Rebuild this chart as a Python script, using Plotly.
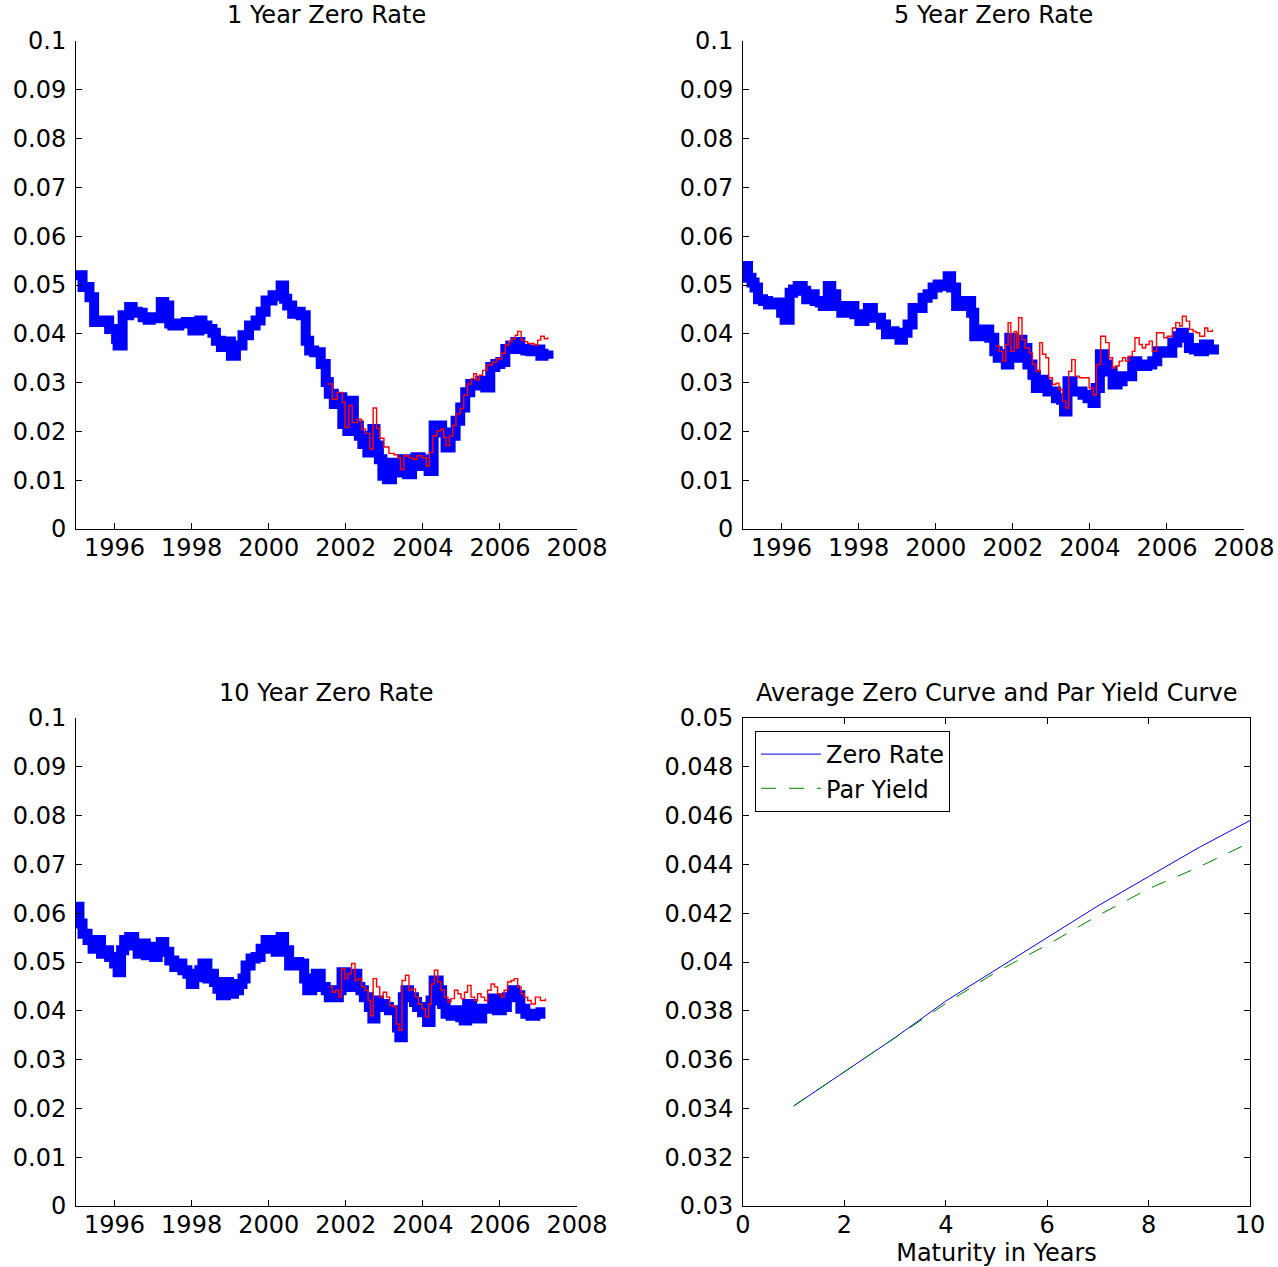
import plotly.graph_objects as go

W, H = 1278, 1267

# ---------------- data (decimal years, rates) ----------------
y1_dates = [1995.00, 1995.17, 1995.35, 1995.47, 1995.60, 1995.78, 1995.86, 1996.04, 1996.08, 1996.21,
            1996.38, 1996.47, 1996.60, 1996.73, 1996.86, 1996.94, 1997.07, 1997.20, 1997.29, 1997.42,
            1997.50, 1997.68, 1997.85, 1998.02, 1998.20, 1998.28, 1998.41, 1998.54, 1998.63, 1998.76,
            1998.89, 1999.02, 1999.15, 1999.32, 1999.49, 1999.66, 1999.79, 1999.92, 2000.10, 2000.18,
            2000.31, 2000.40, 2000.48, 2000.61, 2000.74, 2000.83, 2000.96, 2001.05, 2001.18, 2001.35,
            2001.48, 2001.56, 2001.69, 2001.82, 2001.91, 2002.04, 2002.12, 2002.21, 2002.34, 2002.43,
            2002.56, 2002.69, 2002.77, 2002.86, 2002.95, 2003.07, 2003.20, 2003.33, 2003.46, 2003.59,
            2003.72, 2003.81, 2003.94, 2004.07, 2004.15, 2004.28, 2004.41, 2004.50, 2004.59, 2004.72,
            2004.85, 2004.97, 2005.10, 2005.23, 2005.36, 2005.49, 2005.62, 2005.75, 2005.88, 2006.01,
            2006.14, 2006.27, 2006.40, 2006.53, 2006.66, 2006.79, 2006.92, 2007.05, 2007.13, 2007.26]
y1_zero = [0.0520, 0.0496, 0.0475, 0.0424, 0.0427, 0.0427, 0.0410, 0.0390, 0.0376, 0.0438,
           0.0455, 0.0445, 0.0443, 0.0434, 0.0429, 0.0434, 0.0432, 0.0465, 0.0458, 0.0421,
           0.0417, 0.0421, 0.0424, 0.0407, 0.0427, 0.0417, 0.0410, 0.0402, 0.0386, 0.0373,
           0.0384, 0.0355, 0.0376, 0.0397, 0.0417, 0.0427, 0.0445, 0.0468, 0.0479, 0.0477,
           0.0499, 0.0472, 0.0458, 0.0441, 0.0445, 0.0438, 0.0386, 0.0366, 0.0362, 0.0338,
           0.0301, 0.0277, 0.0256, 0.0270, 0.0215, 0.0201, 0.0263, 0.0212, 0.0191, 0.0174,
           0.0157, 0.0205, 0.0171, 0.0143, 0.0109, 0.0102, 0.0136, 0.0116, 0.0143, 0.0112,
           0.0129, 0.0147, 0.0143, 0.0129, 0.0119, 0.0212, 0.0212, 0.0198, 0.0167, 0.0191,
           0.0222, 0.0249, 0.0280, 0.0297, 0.0294, 0.0304, 0.0290, 0.0332, 0.0338, 0.0342,
           0.0369, 0.0376, 0.0383, 0.0369, 0.0366, 0.0364, 0.0368, 0.0355, 0.0359, 0.0366]
y1_red_dates = [2001.52, 2001.65, 2001.78, 2001.91, 2001.98, 2002.08, 2002.17, 2002.30, 2002.41, 2002.51,
                2002.62, 2002.71, 2002.80, 2002.88, 2002.99, 2003.12, 2003.25, 2003.35, 2003.42, 2003.51,
                2003.64, 2003.74, 2003.85, 2003.98, 2004.09, 2004.17, 2004.26, 2004.37, 2004.47, 2004.54,
                2004.60, 2004.69, 2004.78, 2004.86, 2004.97, 2005.06, 2005.16, 2005.26, 2005.32, 2005.39,
                2005.47, 2005.55, 2005.67, 2005.80, 2005.92, 2006.05, 2006.14, 2006.23, 2006.31, 2006.40,
                2006.46, 2006.55, 2006.63, 2006.72, 2006.81, 2006.89, 2006.98, 2007.06, 2007.15, 2007.24]
y1_red = [0.0297, 0.0266, 0.0280, 0.0260, 0.0208, 0.0253, 0.0218, 0.0225, 0.0205, 0.0196,
          0.0164, 0.0248, 0.0206, 0.0186, 0.0168, 0.0155, 0.0152, 0.0146, 0.0122, 0.0150,
          0.0146, 0.0143, 0.0150, 0.0146, 0.0129, 0.0157, 0.0191, 0.0201, 0.0205, 0.0188,
          0.0171, 0.0191, 0.0212, 0.0236, 0.0247, 0.0274, 0.0297, 0.0308, 0.0318, 0.0305,
          0.0315, 0.0325, 0.0336, 0.0342, 0.0349, 0.0360, 0.0377, 0.0384, 0.0390, 0.0397,
          0.0405, 0.0387, 0.0384, 0.0380, 0.0380, 0.0377, 0.0387, 0.0395, 0.0390, 0.0393]

y5_dates = [1995.00, 1995.13, 1995.22, 1995.30, 1995.39, 1995.52, 1995.65, 1995.78, 1995.91, 1995.99,
            1996.08, 1996.21, 1996.30, 1996.42, 1996.55, 1996.64, 1996.73, 1996.86, 1996.99, 1997.07,
            1997.20, 1997.29, 1997.42, 1997.55, 1997.68, 1997.76, 1997.89, 1998.02, 1998.15, 1998.24,
            1998.37, 1998.50, 1998.58, 1998.71, 1998.80, 1998.93, 1999.06, 1999.15, 1999.27, 1999.40,
            1999.53, 1999.66, 1999.79, 1999.92, 2000.05, 2000.18, 2000.31, 2000.40, 2000.53, 2000.66,
            2000.79, 2000.92, 2001.00, 2001.13, 2001.26, 2001.39, 2001.52, 2001.61, 2001.74, 2001.82,
            2001.91, 2002.00, 2002.08, 2002.17, 2002.25, 2002.38, 2002.51, 2002.60, 2002.73, 2002.82,
            2002.90, 2003.03, 2003.12, 2003.25, 2003.33, 2003.42, 2003.55, 2003.68, 2003.81, 2003.94,
            2004.07, 2004.15, 2004.26, 2004.37, 2004.46, 2004.59, 2004.72, 2004.85, 2004.97, 2005.10,
            2005.23, 2005.36, 2005.49, 2005.62, 2005.75, 2005.88, 2006.01, 2006.14, 2006.27, 2006.36,
            2006.44, 2006.57, 2006.70, 2006.83, 2006.96, 2007.09, 2007.22]
y5_zero = [0.0539, 0.0515, 0.0505, 0.0495, 0.0471, 0.0467, 0.0460, 0.0460, 0.0464, 0.0443,
           0.0429, 0.0484, 0.0491, 0.0498, 0.0488, 0.0471, 0.0481, 0.0467, 0.0464, 0.0457,
           0.0498, 0.0481, 0.0457, 0.0443, 0.0453, 0.0457, 0.0440, 0.0426, 0.0436, 0.0453,
           0.0433, 0.0433, 0.0419, 0.0399, 0.0405, 0.0402, 0.0388, 0.0402, 0.0419, 0.0453,
           0.0453, 0.0474, 0.0481, 0.0495, 0.0501, 0.0498, 0.0518, 0.0495, 0.0457, 0.0464,
           0.0467, 0.0443, 0.0395, 0.0395, 0.0409, 0.0392, 0.0364, 0.0351, 0.0358, 0.0337,
           0.0392, 0.0371, 0.0351, 0.0388, 0.0371, 0.0337, 0.0316, 0.0289, 0.0306, 0.0296,
           0.0282, 0.0282, 0.0268, 0.0265, 0.0241, 0.0303, 0.0282, 0.0282, 0.0275, 0.0268,
           0.0258, 0.0289, 0.0358, 0.0337, 0.0323, 0.0296, 0.0303, 0.0313, 0.0313, 0.0344,
           0.0334, 0.0334, 0.0337, 0.0344, 0.0364, 0.0364, 0.0361, 0.0382, 0.0395, 0.0402,
           0.0392, 0.0371, 0.0368, 0.0364, 0.0378, 0.0368, 0.0378]
y5_red_dates = [2001.56, 2001.65, 2001.74, 2001.82, 2001.88, 2001.95, 2002.04, 2002.10, 2002.15, 2002.24,
                2002.32, 2002.43, 2002.51, 2002.60, 2002.70, 2002.77, 2002.86, 2002.93, 2003.03, 2003.12,
                2003.20, 2003.29, 2003.38, 2003.45, 2003.53, 2003.62, 2003.72, 2003.85, 2003.98, 2004.09,
                2004.17, 2004.28, 2004.41, 2004.50, 2004.59, 2004.67, 2004.76, 2004.85, 2004.93, 2005.02,
                2005.10, 2005.17, 2005.28, 2005.36, 2005.45, 2005.54, 2005.62, 2005.73, 2005.84, 2005.92,
                2006.01, 2006.14, 2006.23, 2006.33, 2006.40, 2006.50, 2006.59, 2006.68, 2006.76, 2006.85,
                2006.98, 2007.06, 2007.18]
y5_red = [0.0375, 0.0364, 0.0344, 0.0378, 0.0423, 0.0364, 0.0405, 0.0371, 0.0433, 0.0388,
          0.0371, 0.0361, 0.0337, 0.0323, 0.0382, 0.0358, 0.0351, 0.0310, 0.0296, 0.0299,
          0.0286, 0.0262, 0.0248, 0.0323, 0.0347, 0.0313, 0.0310, 0.0310, 0.0289, 0.0275,
          0.0337, 0.0395, 0.0382, 0.0351, 0.0330, 0.0334, 0.0344, 0.0351, 0.0344, 0.0354,
          0.0364, 0.0392, 0.0378, 0.0371, 0.0378, 0.0385, 0.0364, 0.0402, 0.0402, 0.0392,
          0.0395, 0.0412, 0.0423, 0.0416, 0.0436, 0.0426, 0.0409, 0.0405, 0.0402, 0.0395,
          0.0412, 0.0405, 0.0409]

y10_dates = [1995.00, 1995.09, 1995.17, 1995.30, 1995.43, 1995.56, 1995.65, 1995.78, 1995.86, 1995.99,
             1996.08, 1996.17, 1996.25, 1996.38, 1996.51, 1996.60, 1996.68, 1996.81, 1996.90, 1997.03,
             1997.12, 1997.20, 1997.29, 1997.42, 1997.55, 1997.68, 1997.76, 1997.89, 1997.98, 1998.07,
             1998.20, 1998.28, 1998.41, 1998.50, 1998.58, 1998.67, 1998.76, 1998.89, 1998.97, 1999.10,
             1999.23, 1999.32, 1999.40, 1999.53, 1999.66, 1999.79, 1999.92, 2000.05, 2000.18, 2000.31,
             2000.40, 2000.53, 2000.66, 2000.79, 2000.92, 2001.00, 2001.13, 2001.22, 2001.35, 2001.48,
             2001.56, 2001.69, 2001.82, 2001.89, 2002.00, 2002.08, 2002.17, 2002.30, 2002.38, 2002.47,
             2002.60, 2002.69, 2002.77, 2002.86, 2002.99, 2003.12, 2003.25, 2003.33, 2003.39, 2003.48,
             2003.55, 2003.64, 2003.77, 2003.85, 2003.98, 2004.11, 2004.20, 2004.28, 2004.41, 2004.50,
             2004.59, 2004.72, 2004.85, 2004.97, 2005.06, 2005.15, 2005.28, 2005.41, 2005.54, 2005.67,
             2005.80, 2005.92, 2006.05, 2006.18, 2006.31, 2006.40, 2006.53, 2006.66, 2006.79, 2006.92,
             2007.05, 2007.18]
y10_zero = [0.0613, 0.0579, 0.0558, 0.0545, 0.0527, 0.0545, 0.0517, 0.0524, 0.0510, 0.0497,
            0.0479, 0.0524, 0.0545, 0.0551, 0.0534, 0.0517, 0.0538, 0.0514, 0.0531, 0.0510,
            0.0524, 0.0541, 0.0521, 0.0503, 0.0490, 0.0497, 0.0483, 0.0476, 0.0455, 0.0469,
            0.0483, 0.0497, 0.0466, 0.0476, 0.0459, 0.0445, 0.0432, 0.0459, 0.0435, 0.0442,
            0.0455, 0.0466, 0.0493, 0.0507, 0.0510, 0.0527, 0.0545, 0.0534, 0.0521, 0.0551,
            0.0524, 0.0493, 0.0500, 0.0497, 0.0466, 0.0442, 0.0459, 0.0476, 0.0449, 0.0442,
            0.0428, 0.0428, 0.0442, 0.0479, 0.0452, 0.0449, 0.0476, 0.0449, 0.0442, 0.0428,
            0.0408, 0.0384, 0.0421, 0.0414, 0.0408, 0.0401, 0.0401, 0.0366, 0.0346, 0.0428,
            0.0442, 0.0428, 0.0418, 0.0408, 0.0397, 0.0377, 0.0421, 0.0462, 0.0442, 0.0414,
            0.0394, 0.0390, 0.0401, 0.0387, 0.0380, 0.0414, 0.0401, 0.0384, 0.0404, 0.0404,
            0.0425, 0.0401, 0.0408, 0.0428, 0.0442, 0.0432, 0.0404, 0.0394, 0.0390, 0.0394,
            0.0397, 0.0397]
y10_red_dates = [2001.56, 2001.65, 2001.74, 2001.82, 2001.89, 2001.98, 2002.06, 2002.15, 2002.24, 2002.32,
                 2002.41, 2002.50, 2002.58, 2002.64, 2002.71, 2002.80, 2002.88, 2002.97, 2003.06, 2003.14,
                 2003.23, 2003.31, 2003.38, 2003.46, 2003.55, 2003.64, 2003.72, 2003.81, 2003.89, 2003.98,
                 2004.07, 2004.15, 2004.22, 2004.30, 2004.39, 2004.47, 2004.56, 2004.65, 2004.73, 2004.82,
                 2004.91, 2004.99, 2005.08, 2005.16, 2005.25, 2005.34, 2005.42, 2005.51, 2005.60, 2005.68,
                 2005.77, 2005.86, 2005.94, 2006.03, 2006.11, 2006.20, 2006.29, 2006.37, 2006.46, 2006.55,
                 2006.63, 2006.72, 2006.81, 2006.92, 2007.05, 2007.18]
y10_red = [0.0449, 0.0438, 0.0442, 0.0428, 0.0486, 0.0466, 0.0476, 0.0497, 0.0462, 0.0466,
           0.0449, 0.0442, 0.0421, 0.0390, 0.0466, 0.0449, 0.0428, 0.0438, 0.0428, 0.0411,
           0.0408, 0.0373, 0.0360, 0.0462, 0.0473, 0.0442, 0.0445, 0.0428, 0.0414, 0.0404,
           0.0387, 0.0414, 0.0455, 0.0483, 0.0459, 0.0442, 0.0428, 0.0418, 0.0425, 0.0442,
           0.0435, 0.0425, 0.0438, 0.0452, 0.0428, 0.0421, 0.0435, 0.0428, 0.0421, 0.0442,
           0.0455, 0.0449, 0.0435, 0.0428, 0.0442, 0.0459, 0.0462, 0.0466, 0.0449, 0.0435,
           0.0428, 0.0421, 0.0414, 0.0428, 0.0421, 0.0425]

maturities = [1, 2, 3, 4, 5, 6, 7, 8, 9, 10]
avg_zero = [0.0341, 0.0355, 0.0369, 0.0384, 0.0397, 0.0410, 0.0423, 0.0435, 0.0447, 0.0458]
avg_par = [0.0341, 0.0355, 0.0369, 0.0383, 0.0396, 0.0407, 0.0419, 0.0430, 0.0439, 0.0449]

year_ticks = [1996, 1998, 2000, 2002, 2004, 2006, 2008]
year_labels = ["1996", "1998", "2000", "2002", "2004", "2006", "2008"]
rate_ticks = [0, 0.01, 0.02, 0.03, 0.04, 0.05, 0.06, 0.07, 0.08, 0.09, 0.1]
rate_labels = ["0", "0.01", "0.02", "0.03", "0.04", "0.05", "0.06", "0.07", "0.08", "0.09", "0.1"]
curve_ticks = [0.03, 0.032, 0.034, 0.036, 0.038, 0.04, 0.042, 0.044, 0.046, 0.048, 0.05]
curve_labels = ["0.03", "0.032", "0.034", "0.036", "0.038", "0.04", "0.042", "0.044", "0.046", "0.048", "0.05"]
mat_ticks = [0, 2, 4, 6, 8, 10]

titles = ["1 Year Zero Rate", "5 Year Zero Rate", "10 Year Zero Rate",
          "Average Zero Curve and Par Yield Curve"]

FONT = "DejaVu Sans"
FS = 24
BLUE = "#0000ff"
RED = "#ff0000"
GREEN = "#008000"

# ---------------- figure ----------------
fig = go.Figure()

panels = [
    (y1_dates, y1_zero, y1_red_dates, y1_red, "x", "y"),
    (y5_dates, y5_zero, y5_red_dates, y5_red, "x2", "y2"),
    (y10_dates, y10_zero, y10_red_dates, y10_red, "x3", "y3"),
]
for d, z, rd, r, xa, ya in panels:
    fig.add_trace(go.Scatter(x=d, y=z, mode="lines", line=dict(color=BLUE, width=10, shape="hv"),
                             xaxis=xa, yaxis=ya, showlegend=False, hoverinfo="skip"))
    fig.add_trace(go.Scatter(x=rd, y=r, mode="lines", line=dict(color=RED, width=1.4, shape="hv"),
                             xaxis=xa, yaxis=ya, showlegend=False, hoverinfo="skip"))

fig.add_trace(go.Scatter(x=maturities, y=avg_zero, mode="lines", name="Zero Rate",
                         line=dict(color=BLUE, width=1), xaxis="x4", yaxis="y4"))
fig.add_trace(go.Scatter(x=maturities, y=avg_par, mode="lines", name="Par Yield",
                         line=dict(color=GREEN, width=1, dash="15px,13px"), xaxis="x4", yaxis="y4"))


def px_x(p):
    return p / W


def px_y(p):
    return 1 - p / H


col1 = [px_x(76), px_x(577)]
col2 = [px_x(743), px_x(1244)]
col2b = [px_x(743), px_x(1250)]
row1 = [px_y(529), px_y(41)]
row2 = [px_y(1206), px_y(718)]

tickfont = dict(family=FONT, size=FS, color="black")
common = dict(showgrid=False, zeroline=False, showline=True, linecolor="black", linewidth=1,
              ticks="inside", ticklen=6, tickcolor="black", tickfont=tickfont, automargin=False)


def time_x(domain, anchor):
    return dict(common, domain=domain, anchor=anchor, range=[1995, 2008],
                tickmode="array", tickvals=year_ticks, ticktext=year_labels,
                ticklabelstandoff=-3)


def rate_y(domain, anchor):
    return dict(common, domain=domain, anchor=anchor, range=[0, 0.1],
                tickmode="array", tickvals=rate_ticks, ticktext=rate_labels,
                ticklabelstandoff=4)


fig.update_layout(
    xaxis=time_x(col1, "y"), yaxis=rate_y(row1, "x"),
    xaxis2=time_x(col2, "y2"), yaxis2=rate_y(row1, "x2"),
    xaxis3=time_x(col1, "y3"), yaxis3=rate_y(row2, "x3"),
    xaxis4=dict(common, domain=col2b, anchor="y4", range=[0, 10], mirror="ticks",
                tickmode="array", tickvals=mat_ticks, ticktext=[str(v) for v in mat_ticks],
                ticklabelstandoff=-3,
                title=dict(text="Maturity in Years", font=tickfont, standoff=0)),
    yaxis4=dict(common, domain=row2, anchor="x4", range=[0.03, 0.05], mirror="ticks",
                tickmode="array", tickvals=curve_ticks, ticktext=curve_labels,
                ticklabelstandoff=4),
)

title_pos = [((76 + 577) / 2, 15), ((743 + 1244) / 2, 15), ((76 + 577) / 2, 693), ((743 + 1250) / 2, 693)]
for t, (cx, cy) in zip(titles, title_pos):
    fig.add_annotation(text=t, x=px_x(cx), y=px_y(cy), xref="paper", yref="paper",
                       xanchor="center", yanchor="middle", showarrow=False,
                       font=dict(family=FONT, size=FS, color="black"))

fig.update_layout(
    width=W, height=H, margin=dict(l=0, r=0, t=0, b=0, pad=0, autoexpand=False),
    paper_bgcolor="white", plot_bgcolor="white",
    font=dict(family=FONT, size=FS, color="black"),
    legend=dict(x=px_x(755), y=px_y(731), xanchor="left", yanchor="top",
                bordercolor="black", borderwidth=1, bgcolor="white",
                font=dict(family=FONT, size=FS, color="black"),
                itemwidth=60, tracegroupgap=0),
    showlegend=True,
)

fig.write_html("out.html", config={"displayModeBar": False},
               post_script="document.body.style.margin='0';document.body.style.padding='0';")
